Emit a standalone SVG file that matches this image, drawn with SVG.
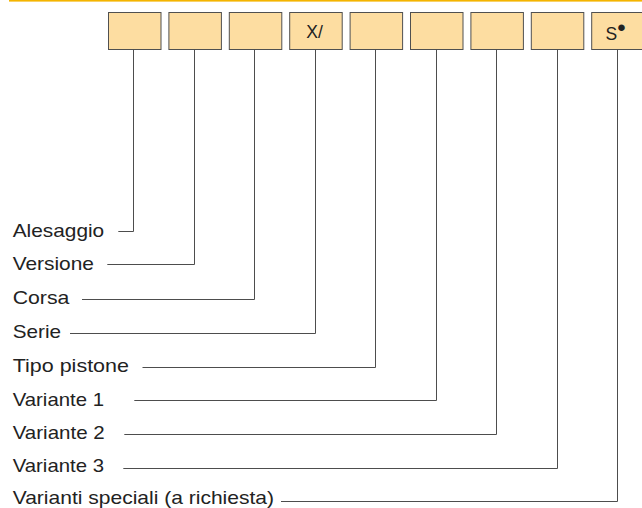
<svg xmlns="http://www.w3.org/2000/svg" width="642" height="508" viewBox="0 0 642 508">
<style>
.box{fill:#FDDDA1;stroke:#505050;stroke-width:1}
.lbl{font-family:"Liberation Sans",Arial,sans-serif;font-size:19px;fill:#222}
.code{font-family:"Liberation Sans",Arial,sans-serif;font-size:17.5px;fill:#222}
.con{fill:none;stroke:#4d4d4d;stroke-width:1}
</style>
<rect x="9" y="0" width="633" height="1.6" fill="#F4B400"/>
<g id="box1"><rect class="box" x="108.5" y="12.5" width="52.5" height="37"/></g>
<g id="box2"><rect class="box" x="168.9" y="12.5" width="52.5" height="37"/></g>
<g id="box3"><rect class="box" x="229.3" y="12.5" width="52.5" height="37"/></g>
<g id="box4"><rect class="box" x="289.7" y="12.5" width="52.5" height="37"/><text class="code" x="306.3" y="38">X/</text></g>
<g id="box5"><rect class="box" x="350.1" y="12.5" width="52.5" height="37"/></g>
<g id="box6"><rect class="box" x="410.5" y="12.5" width="52.5" height="37"/></g>
<g id="box7"><rect class="box" x="470.9" y="12.5" width="52.5" height="37"/></g>
<g id="box8"><rect class="box" x="531.3" y="12.5" width="52.5" height="37"/></g>
<g id="box9"><rect class="box" x="591.7" y="12.5" width="52.5" height="37"/><text class="code" x="605.5" y="39.5">S<tspan font-size="24" dy="-4">•</tspan></text></g>
<g id="lbl-alesaggio"><text class="lbl" x="12.7" y="236.5" textLength="91.5" lengthAdjust="spacingAndGlyphs">Alesaggio</text></g>
<g id="lbl-versione"><text class="lbl" x="12.7" y="270" textLength="81.3" lengthAdjust="spacingAndGlyphs">Versione</text></g>
<g id="lbl-corsa"><text class="lbl" x="12.7" y="304" textLength="56.7" lengthAdjust="spacingAndGlyphs">Corsa</text></g>
<g id="lbl-serie"><text class="lbl" x="12.7" y="338" textLength="48.3" lengthAdjust="spacingAndGlyphs">Serie</text></g>
<g id="lbl-tipo"><text class="lbl" x="12.7" y="371.5" textLength="116.3" lengthAdjust="spacingAndGlyphs">Tipo pistone</text></g>
<g id="lbl-var1"><text class="lbl" x="12.7" y="405.5" textLength="91.3" lengthAdjust="spacingAndGlyphs">Variante 1</text></g>
<g id="lbl-var2"><text class="lbl" x="12.7" y="439" textLength="92" lengthAdjust="spacingAndGlyphs">Variante 2</text></g>
<g id="lbl-var3"><text class="lbl" x="12.7" y="472" textLength="91.3" lengthAdjust="spacingAndGlyphs">Variante 3</text></g>
<g id="lbl-speciali"><text class="lbl" x="12.7" y="504" textLength="261.3" lengthAdjust="spacingAndGlyphs">Varianti speciali (a richiesta)</text></g>
<g id="connectors">
<polyline class="con" points="118.3,231.5 133.5,231.5 133.5,49.5"/>
<polyline class="con" points="107.3,264.5 194.5,264.5 194.5,49.5"/>
<polyline class="con" points="82,299.5 254.5,299.5 254.5,49.5"/>
<polyline class="con" points="70,333.5 315.5,333.5 315.5,49.5"/>
<polyline class="con" points="142.5,367.5 375.5,367.5 375.5,49.5"/>
<polyline class="con" points="134.3,400.5 436.5,400.5 436.5,49.5"/>
<polyline class="con" points="124.3,434.5 496.5,434.5 496.5,49.5"/>
<polyline class="con" points="123.3,468.5 557.5,468.5 557.5,49.5"/>
<polyline class="con" points="281,501.5 617.5,501.5 617.5,49.5"/>
</g>
</svg>
